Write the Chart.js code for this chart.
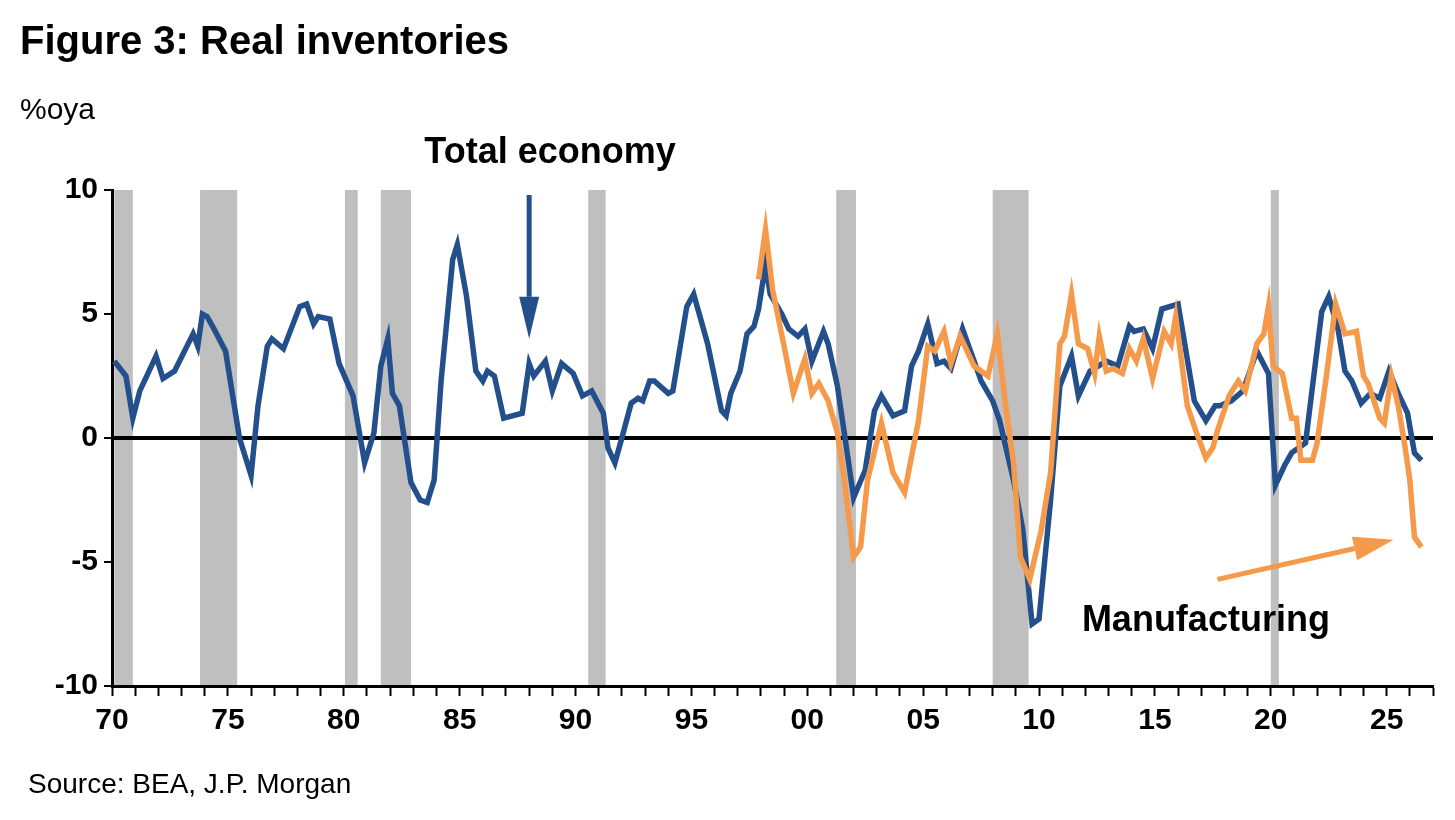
<!DOCTYPE html>
<html>
<head>
<meta charset="utf-8">
<script src="https://cdn.jsdelivr.net/npm/chart.js@4"></script>
<style>
  body { margin: 0; background: #fff; font-family: "Liberation Sans Narrow", "Arial Narrow", "Liberation Sans", sans-serif; }
  #wrap { position: relative; width: 1455px; height: 820px; }
  .txt { position: absolute; color: #000; white-space: nowrap; }
</style>
</head>
<body>
<div id="wrap">
  <canvas id="chart" width="1455" height="820"></canvas>
  <div class="txt" style="left:20px;top:18px;font-size:40px;font-weight:bold;">Figure 3: Real inventories</div>
  <div class="txt" style="left:20px;top:92px;font-size:30px;">%oya</div>
  <div class="txt" style="left:28px;top:768px;font-size:28px;">Source: BEA, J.P. Morgan</div>
</div>
<script>
// values (year, % over year ago)
const totalYears = [1970.1,1970.6,1970.9,1971.2,1971.9,1972.2,1972.7,1973.5,1973.7,1973.9,1974.1,1974.4,1974.9,1975.5,1976.0,1976.3,1976.7,1976.9,1977.4,1978.1,1978.4,1978.7,1978.9,1979.4,1979.8,1980.4,1980.9,1981.3,1981.6,1981.9,1982.1,1982.4,1982.9,1983.3,1983.6,1983.9,1984.2,1984.7,1984.9,1985.3,1985.7,1986.0,1986.2,1986.5,1986.9,1987.7,1988.0,1988.2,1988.7,1989.0,1989.4,1989.9,1990.3,1990.7,1991.2,1991.4,1991.7,1992.0,1992.4,1992.7,1992.9,1993.2,1993.4,1994.0,1994.2,1994.8,1995.1,1995.7,1996.3,1996.5,1996.7,1997.1,1997.4,1997.7,1997.9,1998.2,1998.4,1998.9,1999.2,1999.6,1999.9,2000.2,2000.7,2000.9,2001.3,2001.6,2002.0,2002.5,2002.9,2003.2,2003.7,2004.2,2004.5,2004.8,2005.2,2005.6,2005.9,2006.2,2006.7,2007.2,2007.5,2008.0,2008.3,2008.9,2009.3,2009.7,2010.0,2010.5,2010.9,2011.4,2011.7,2012.2,2012.9,2013.4,2013.9,2014.1,2014.5,2014.9,2015.3,2016.0,2016.7,2017.2,2017.6,2017.8,2018.3,2018.8,2019.4,2019.9,2020.2,2020.6,2020.9,2021.5,2022.2,2022.5,2022.9,2023.2,2023.5,2023.9,2024.3,2024.7,2025.1,2025.5,2025.9,2026.2,2026.5];
const totalValues = [3.1,2.5,0.8,1.9,3.3,2.4,2.7,4.2,3.7,5.0,4.9,4.4,3.5,0.0,-1.5,1.3,3.7,4.0,3.6,5.3,5.4,4.6,4.9,4.8,3.0,1.7,-1.0,0.2,2.9,4.0,1.8,1.3,-1.8,-2.5,-2.6,-1.7,2.3,7.2,7.8,5.7,2.7,2.3,2.7,2.5,0.8,1.0,3.0,2.5,3.1,1.9,3.0,2.6,1.7,1.9,1.0,-0.4,-1.0,0.0,1.4,1.6,1.5,2.3,2.3,1.8,1.9,5.3,5.8,3.8,1.1,0.9,1.8,2.7,4.2,4.5,5.2,7.0,5.8,5.0,4.4,4.1,4.4,3.1,4.3,3.8,2.1,0.2,-2.4,-1.3,1.1,1.7,0.9,1.1,2.9,3.5,4.6,3.0,3.1,2.8,4.4,3.1,2.3,1.5,0.7,-1.7,-3.7,-7.5,-7.3,-2.5,2.1,3.3,1.7,2.7,3.1,2.9,4.5,4.3,4.4,3.6,5.2,5.4,1.5,0.7,1.3,1.3,1.5,1.9,3.5,2.6,-1.9,-1.1,-0.6,-0.2,5.1,5.7,4.4,2.7,2.3,1.4,1.8,1.6,2.7,1.8,1.0,-0.6,-0.9];
const mfgYears = [1997.9,1998.2,1998.5,1999.0,1999.4,1999.9,2000.2,2000.5,2000.9,2001.3,2001.6,2002.0,2002.3,2002.6,2003.2,2003.7,2004.2,2004.8,2005.2,2005.5,2005.9,2006.2,2006.6,2007.2,2007.8,2008.2,2008.6,2008.9,2009.2,2009.6,2010.1,2010.5,2010.9,2011.1,2011.4,2011.7,2012.1,2012.4,2012.6,2012.9,2013.2,2013.6,2013.9,2014.2,2014.5,2014.9,2015.4,2015.7,2015.9,2016.4,2016.8,2017.2,2017.5,2017.7,2018.2,2018.6,2018.9,2019.4,2019.7,2019.9,2020.1,2020.5,2020.9,2021.1,2021.3,2021.8,2022.0,2022.4,2022.8,2023.2,2023.7,2024.0,2024.2,2024.7,2024.9,2025.2,2025.5,2025.8,2026.0,2026.2,2026.5];
const mfgValues = [6.4,8.4,6.0,3.7,1.8,3.2,1.8,2.2,1.5,0.2,-1.7,-4.8,-4.4,-1.7,0.6,-1.4,-2.2,0.7,3.7,3.5,4.3,3.0,4.1,2.9,2.5,4.2,1.0,-1.0,-4.8,-5.7,-3.7,-1.4,3.8,4.1,5.8,3.8,3.6,2.6,4.1,2.7,2.8,2.6,3.6,3.1,4.0,2.4,4.3,3.8,4.9,1.3,0.2,-0.8,-0.4,0.3,1.7,2.3,1.9,3.8,4.2,5.3,2.9,2.6,0.8,0.8,-0.9,-0.9,-0.2,2.5,5.4,4.2,4.3,2.5,2.2,0.8,0.6,2.5,1.3,-0.4,-1.7,-4.0,-4.4];
const recessionStart = [1970.1,1973.8,1980.05,1981.6,1990.55,2001.25,2008.0,2020.0];
const recessionEnd = [1970.9,1975.4,1980.6,1982.9,1991.3,2002.1,2009.55,2020.35];
const yTicks = [-10,-5,0,5,10];

const BLUE = "#234F8C";
const ORANGE = "#F5994A";
const FONT = "'Liberation Sans Narrow', 'Arial Narrow', 'Liberation Sans', sans-serif";

const toPts = (xs, ys) => xs.map((x, i) => ({ x, y: ys[i] }));

// grey recession bands behind everything
const recessionBands = {
  id: "recessionBands",
  beforeDraw(chart) {
    const { ctx, chartArea, scales } = chart;
    ctx.save();
    ctx.fillStyle = "#BFBFBF";
    recessionStart.forEach((s, i) => {
      const x1 = scales.x.getPixelForValue(s);
      const x2 = scales.x.getPixelForValue(recessionEnd[i]);
      ctx.fillRect(x1, chartArea.top, x2 - x1, chartArea.bottom - chartArea.top);
    });
    ctx.restore();
  },
};

function arrow(ctx, x1, y1, x2, y2, color, w, head, headW) {
  const a = Math.atan2(y2 - y1, x2 - x1);
  ctx.strokeStyle = color;
  ctx.fillStyle = color;
  ctx.lineWidth = w;
  ctx.beginPath();
  ctx.moveTo(x1, y1);
  ctx.lineTo(x2 - head * Math.cos(a), y2 - head * Math.sin(a));
  ctx.stroke();
  ctx.beginPath();
  ctx.moveTo(x2, y2);
  ctx.lineTo(x2 - head * Math.cos(a) - headW * Math.sin(a), y2 - head * Math.sin(a) + headW * Math.cos(a));
  ctx.lineTo(x2 - head * Math.cos(a) + headW * Math.sin(a), y2 - head * Math.sin(a) - headW * Math.cos(a));
  ctx.closePath();
  ctx.fill();
}

// labels and arrows
const annotations = {
  id: "annotations",
  afterDatasetsDraw(chart) {
    const { ctx, scales } = chart;
    const X = v => scales.x.getPixelForValue(v);
    const Y = v => scales.y.getPixelForValue(v);
    ctx.save();
    ctx.font = "bold 36px " + FONT;
    ctx.fillStyle = "#000";
    ctx.textAlign = "center";
    ctx.textBaseline = "middle";
    ctx.fillText("Total economy", X(1988.9), 153);
    ctx.fillText("Manufacturing", X(2017.2), Y(-7.4));
    arrow(ctx, X(1988.0), Y(9.8), X(1988.0), Y(4.0), BLUE, 5, 42, 10);
    arrow(ctx, X(2017.7), Y(-5.7), X(2025.3), Y(-4.1), ORANGE, 5, 40, 12);
    ctx.restore();
  },
};

new Chart(document.getElementById("chart"), {
  type: "line",
  data: {
    datasets: [
      { label: "Manufacturing", data: toPts(mfgYears, mfgValues), borderColor: ORANGE, borderWidth: 5.5, pointRadius: 0, tension: 0 },
      { label: "Total economy", data: toPts(totalYears, totalValues), borderColor: BLUE, borderWidth: 5.5, pointRadius: 0, tension: 0 },
    ],
  },
  options: {
    responsive: false,
    animation: false,
    layout: { padding: { left: 0, top: 190, right: 22, bottom: 74 } },
    plugins: { legend: { display: false }, tooltip: { enabled: false } },
    scales: {
      x: {
        type: "linear",
        min: 1970,
        max: 2027,
        afterFit: s => { s.height = 60; },
        ticks: {
          stepSize: 1,
          autoSkip: false,
          maxRotation: 0,
          color: "#000",
          font: { family: FONT, size: 30, weight: "bold" },
          padding: 7,
          callback: v => (v % 5 === 0 && v < 2027 ? String(v % 100).padStart(2, "0") : ""),
        },
        grid: { drawOnChartArea: false, tickLength: 10, tickColor: "#000", tickWidth: 2 },
        border: { color: "#000", width: 3 },
      },
      y: {
        min: -10,
        max: 10,
        afterFit: s => { s.width = 112; },
        afterBuildTicks: s => { s.ticks = yTicks.map(v => ({ value: v })); },
        ticks: { color: "#000", font: { family: FONT, size: 30, weight: "bold" }, padding: 6 },
        grid: {
          drawOnChartArea: true,
          color: c => (c.tick && c.tick.value === 0 ? "#000" : "rgba(0,0,0,0)"),
          lineWidth: 4,
          tickLength: 8,
          tickColor: "#000",
          tickWidth: 2,
        },
        border: { color: "#000", width: 3 },
      },
    },
  },
  plugins: [recessionBands, annotations],
});
</script>
</body>
</html>
